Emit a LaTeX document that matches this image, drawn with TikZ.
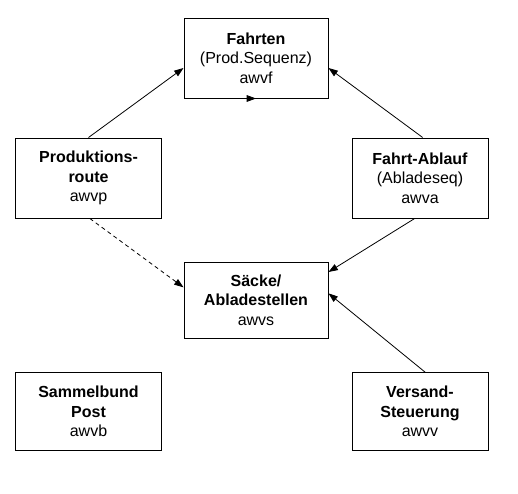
\documentclass[tikz,border=0pt]{standalone}
\usepackage{fontspec}
\setmainfont{Liberation Sans}
\usetikzlibrary{arrows.meta, positioning}

\begin{document}
\begin{tikzpicture}[
      x=0.75pt, y=-0.75pt,
      table/.style={rectangle, draw, line width=0.75pt, align=center, font=\fontsize{12}{14.5}\selectfont, inner sep=0pt},
      arrow/.style={-{Triangle[length=7pt, width=5pt]}, line width=0.6pt},
      dasharrow/.style={arrow, dash pattern=on 3pt off 2.5pt}
  ]
      \useasboundingbox (0,0) rectangle (518,493);

      % Tables
      \node[table, minimum width=108pt, minimum height=60pt] (F) at (256,58) {\textbf{Fahrten}\\(Prod.Sequenz)\\awvf};
      \node[table, minimum width=109pt, minimum height=60pt] (P) at (88.5,178) {\textbf{Produktions-}\\\textbf{route}\\awvp};
      \node[table, minimum width=102pt, minimum height=60pt] (A) at (420,178) {\textbf{Fahrt-Ablauf}\\(Abladeseq)\\awva};
      \node[table, minimum width=108pt, minimum height=57pt] (S) at (256,300) {\textbf{Säcke/}\\\textbf{Abladestellen}\\awvs};
      \node[table, minimum width=109pt, minimum height=58pt] (B) at (88.5,411.5) {\textbf{Sammelbund}\\\textbf{Post}\\awvb};
      \node[table, minimum width=102pt, minimum height=58pt] (V) at (420,411.5) {\textbf{Versand-}\\\textbf{Steuerung}\\awvv};

      % Arrows
      \draw[arrow] (P.north) -- ([yshift=-7.5pt]F.west);
      \draw[arrow] ([xshift=2pt]A.north) -- ([yshift=-7.5pt]F.east);
      \draw[arrow] ([xshift=-4pt]A.south) -- ([yshift=21pt]S.east);
      \draw[arrow] ([xshift=4pt]V.north) -- ([yshift=5pt]S.east);
      \draw[dasharrow] ([xshift=1pt]P.south) -- ([yshift=9.5pt]S.west);
      \coordinate (Fs) at ([xshift=-8pt]F.south);
      \draw[arrow] (Fs) -- (F.south);
  \end{tikzpicture}
\end{document}
